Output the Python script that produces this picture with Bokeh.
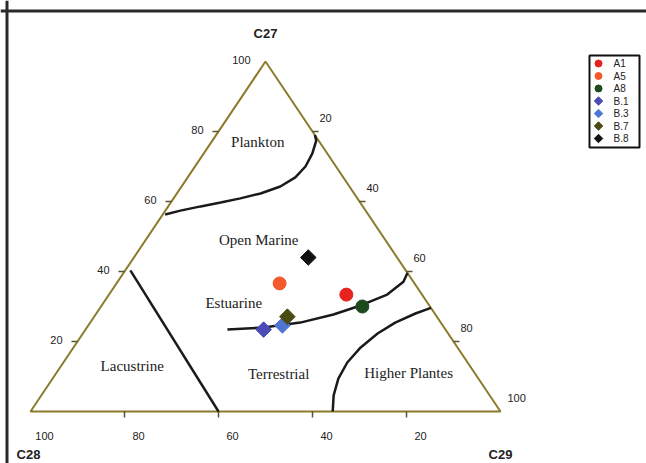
import math
from bokeh.plotting import figure
from bokeh.models import Range1d, Span, ColumnDataSource
from bokeh.core.properties import value
from bokeh.embed import file_html
from bokeh.resources import INLINE

# ---------------- data (ternary percentages; C28 = 100 - C27 - C29) ----------------
sample_names = ["A1", "A5", "A8", "B.1", "B.3", "B.7", "B.8"]
sample_c27 = [33.4, 36.6, 30.0, 23.4, 24.6, 27.1, 44.0]
sample_c29 = [50.5, 34.7, 55.6, 37.9, 41.3, 41.1, 37.1]
sample_colors = ["#e8231f", "#f25a2c", "#1c4a1c", "#4b4bb8", "#4f74d4", "#4a4a12", "#111111"]
sample_kind = ["circle", "circle", "circle", "diamond", "diamond", "diamond", "diamond"]

plankton_c27 = [56.3, 57.4, 58.6, 59.7, 60.9, 62.3, 64.3, 66.9, 70.0, 73.7, 77.4, 79.0]
plankton_c29 = [0.5, 3.2, 6.9, 10.6, 14.2, 17.8, 21.0, 22.9, 23.5, 23.1, 22.1, 21.0]

lacustrine_c27 = [40.3, 0.0]
lacustrine_c29 = [1.1, 40.0]

estuarine_c27 = [23.4, 24.0, 25.4, 27.7, 30.3, 33.4, 37.1, 39.6]
estuarine_c29 = [30.2, 37.6, 44.7, 50.6, 55.1, 59.2, 60.8, 60.4]

higher_c27 = [0.0, 4.6, 9.4, 14.0, 18.3, 22.3, 25.4, 28.0, 29.6]
higher_c29 = [64.3, 62.2, 60.8, 60.4, 61.1, 62.7, 64.9, 67.9, 70.4]

region_names = ["Plankton", "Open Marine", "Estuarine", "Lacustrine", "Terrestrial", "Higher Plantes"]
region_c27 = [76.9, 48.9, 30.9, 13.1, 10.6, 10.9]
region_c29 = [9.9, 24.1, 27.8, 15.1, 47.5, 75.0]

tick_values = [100, 80, 60, 40, 20]
axis_titles = ["C27", "C28", "C29"]

# ---------------- geometry ----------------
W, H = 646, 463
SX, SY = 470.0, 350.0          # pixels per unit in x / y
OX, OY = 30.0, 411.0           # page position of the C28 corner


def tern(c27, c29):
    xs = [(b + a / 2.0) / 100.0 for a, b in zip(c27, c29)]
    ys = [a / 100.0 for a in c27]
    return xs, ys


def dx(px):
    return px / SX


def dy(py):
    return py / SY


def page(px, py):
    return (px - OX) / SX, (OY - py) / SY


p = figure(width=W, height=H,
           x_range=Range1d((0 - OX) / SX, (W - OX) / SX),
           y_range=Range1d((OY - H) / SY, (OY - 0) / SY),
           output_backend="svg", toolbar_location=None, min_border=0,
           x_axis_location=None, y_axis_location=None)
p.xgrid.visible = False
p.ygrid.visible = False
p.outline_line_color = None
p.background_fill_color = "white"

# frame (left and top edges)
lx, ty = page(6.5, 10.5)
p.add_layout(Span(location=lx, dimension="height", line_color="#2a2a2a", line_width=3))
p.add_layout(Span(location=ty, dimension="width", line_color="#2a2a2a", line_width=3))

# triangle
tx, tyy = tern([100, 0, 0, 100], [0, 0, 100, 0])
p.line(tx, tyy, line_color="#8c7b2a", line_width=2)

edge_col = "#555533"
num_font = value("Liberation Sans")

# left axis (C27)
lv = tick_values
lxs, lys = tern(lv, [0] * len(lv))
p.segment(lxs[1:], lys[1:], [x - dx(6) for x in lxs[1:]], lys[1:],
          line_color=edge_col, line_width=1.5)
p.text(lxs, lys, text=[str(v) for v in lv], x_offset=-15, y_offset=-2,
       text_align="right", text_baseline="middle", text_font=num_font,
       text_font_size="11px", text_color="#222222")

# right axis (C29)
rv = tick_values[::-1]
rxs, rys = tern([100 - v for v in rv], rv)
p.segment(rxs[:-1], rys[:-1], [x + dx(6) for x in rxs[:-1]], rys[:-1],
          line_color=edge_col, line_width=1.5)
p.text(rxs, rys, text=[str(v) for v in rv], x_offset=7, y_offset=-14,
       text_align="left", text_baseline="middle", text_font=num_font,
       text_font_size="11px", text_color="#222222")

# bottom axis (C28)
bv = tick_values
bxs, bys = tern([0] * len(bv), [100 - v for v in bv])
p.segment(bxs[1:], bys[1:], bxs[1:], [y - dy(6) for y in bys[1:]],
          line_color=edge_col, line_width=1.5)
p.text(bxs, bys, text=[str(v) for v in bv], x_offset=14, y_offset=24,
       text_align="center", text_baseline="middle", text_font=num_font,
       text_font_size="11px", text_color="#222222")

# axis titles at the corners
cx, cy = tern([100, 0, 0], [0, 0, 100])
p.text(cx, cy, text=axis_titles, x_offset=[0, -2, 0], y_offset=[-28, 43, 43],
       text_align="center", text_baseline="middle",
       text_font=num_font, text_font_size="13px", text_font_style="bold",
       text_color="#222222")

# boundary curves
for c27, c29 in [(plankton_c27, plankton_c29), (lacustrine_c27, lacustrine_c29),
                 (estuarine_c27, estuarine_c29), (higher_c27, higher_c29)]:
    x, y = tern(c27, c29)
    p.line(x, y, line_color="#1a1a1a", line_width=2.5)

# region labels
rgx, rgy = tern(region_c27, region_c29)
p.text(rgx, rgy, text=region_names, text_align="center", text_baseline="middle",
       text_font=value("Liberation Serif"), text_font_size="15px", text_color="#222222")

# samples
sx, sy = tern(sample_c27, sample_c29)
src = ColumnDataSource(dict(
    x=sx, y=sy, color=sample_colors,
    marker=["circle" if k == "circle" else "square" for k in sample_kind],
    size=[13 if k == "circle" else 11 for k in sample_kind],
    angle=[0 if k == "circle" else math.pi / 4 for k in sample_kind]))
p.scatter("x", "y", source=src, marker="marker", size="size", angle="angle",
          fill_color="color", line_color="color", line_width=1)

# legend (drawn manually)
bx0, by0 = page(589, 55)
bx1, by1 = page(639, 147)
p.quad(left=bx0, right=bx1, top=by0, bottom=by1, fill_color="white",
       line_color="#111111", line_width=2)
row_y = [page(0, 63 + 12.5 * i)[1] for i in range(len(sample_names))]
mx = page(598, 0)[0]
tx0 = page(613, 0)[0]
lsrc = ColumnDataSource(dict(
    x=[mx] * len(sample_names), y=row_y, color=sample_colors,
    marker=["circle" if k == "circle" else "square" for k in sample_kind],
    size=[7 if k == "circle" else 6 for k in sample_kind],
    angle=[0 if k == "circle" else math.pi / 4 for k in sample_kind]))
p.scatter("x", "y", source=lsrc, marker="marker", size="size", angle="angle",
          fill_color="color", line_color="color")
p.text([tx0] * len(sample_names), row_y, text=sample_names, text_align="left",
       text_baseline="middle", text_font=num_font, text_font_size="10px",
       text_color="#222222")

open("out.html", "w").write(file_html(p, INLINE))
